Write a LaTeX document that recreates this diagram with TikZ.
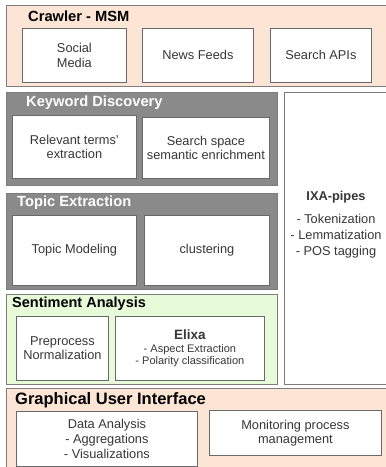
\documentclass[tikz,border=0pt]{standalone}
\usepackage{fontspec}
\setmainfont{Liberation Sans}
\definecolor{peach}{RGB}{253,229,214}
\definecolor{greenfill}{RGB}{232,251,217}
\definecolor{grayfill}{RGB}{138,138,138}
\definecolor{framegray}{RGB}{125,125,125}
\definecolor{boxgray}{RGB}{105,105,105}
\definecolor{textgray}{RGB}{55,55,55}
\begin{document}
\begin{tikzpicture}[x=1pt,y=-1pt,
  group/.style={draw=framegray, line width=0.9pt, inner sep=0pt, anchor=north west},
  inbox/.style={draw=boxgray, fill=white, line width=0.8pt, text=textgray, align=center,
    inner sep=0pt, anchor=north west, font=\fontsize{12.8}{14.4}\selectfont},
  title/.style={anchor=west, inner sep=0pt, font=\bfseries\fontsize{14.7}{16}\selectfont}]
\useasboundingbox (0,0) rectangle (386,467);
\clip (0,0) rectangle (386,467);
% Crawler
\node[group, fill=peach, minimum width=386pt, minimum height=81pt] (crawler) at (6,5) {};
\node[title] (crawlert) at (28,16) {Crawler - MSM};
\node[inbox, minimum width=104pt, minimum height=54pt] (sm) at (22,28) {Social\\Media};
\node[inbox, minimum width=111pt, minimum height=54pt] (nf) at (142,28) {News Feeds};
\node[inbox, minimum width=101pt, minimum height=54pt] (sa) at (270,28) {Search APIs};
% Keyword Discovery
\node[group, fill=grayfill, minimum width=271pt, minimum height=93pt] (kd) at (6,92) {};
\node[title, text=white] (kdt) at (26,103) {Keyword Discovery};
\node[inbox, minimum width=124pt, minimum height=63pt] (rt) at (12,115) {Relevant terms'\\extraction};
\node[inbox, minimum width=127pt, minimum height=61pt] (ss) at (142,117) {Search space\\semantic enrichment};
% Topic Extraction
\node[group, fill=grayfill, minimum width=271pt, minimum height=96pt] (te) at (6,193) {};
\node[title, text=white] (tet) at (17,203) {Topic Extraction};
\node[inbox, minimum width=124pt, minimum height=70pt] (tm) at (12,215) {Topic Modeling};
\node[inbox, minimum width=125pt, minimum height=70pt] (cl) at (144,215) {clustering};
% IXA pipes
\node[group, fill=white, minimum width=108pt, minimum height=292pt] (ixa) at (284,92) {};
\node[align=center, inner sep=0pt, text=textgray, font=\fontsize{12.8}{16}\selectfont] (ixat) at (336,225)
  {\textbf{IXA-pipes}\\[7pt]- Tokenization\\- Lemmatization\\- POS tagging};
% Sentiment Analysis
\node[group, fill=greenfill, minimum width=271pt, minimum height=90pt] (sent) at (6,294) {};
\node[title, font=\bfseries\fontsize{14.5}{16}\selectfont] (sentt) at (12,304) {Sentiment Analysis};
\node[inbox, minimum width=92pt, minimum height=64pt] (pp) at (16,316) {Preprocess\\Normalization};
\node[inbox, minimum width=149pt, minimum height=64pt] (el) at (115,316) {};
\node[align=center, inner sep=0pt, text=textgray, font=\fontsize{11}{12.5}\selectfont] (elt) at (el.center)
  {{\bfseries\fontsize{13.5}{14}\selectfont Elixa}\\- Aspect Extraction\\- Polarity classification};
% GUI
\node[group, fill=peach, minimum width=386pt, minimum height=84pt] (gui) at (6,388) {};
\node[title, font=\bfseries\fontsize{16.5}{18}\selectfont] (guit) at (15,400) {Graphical User Interface};
\node[inbox, minimum width=181pt, minimum height=55pt, font=\fontsize{12.8}{15}\selectfont] (da) at (16,411) {Data Analysis\\- Aggregations\\- Visualizations};
\node[inbox, minimum width=172pt, minimum height=45pt] (mo) at (209,410) {Monitoring process\\management};
\end{tikzpicture}
\end{document}
